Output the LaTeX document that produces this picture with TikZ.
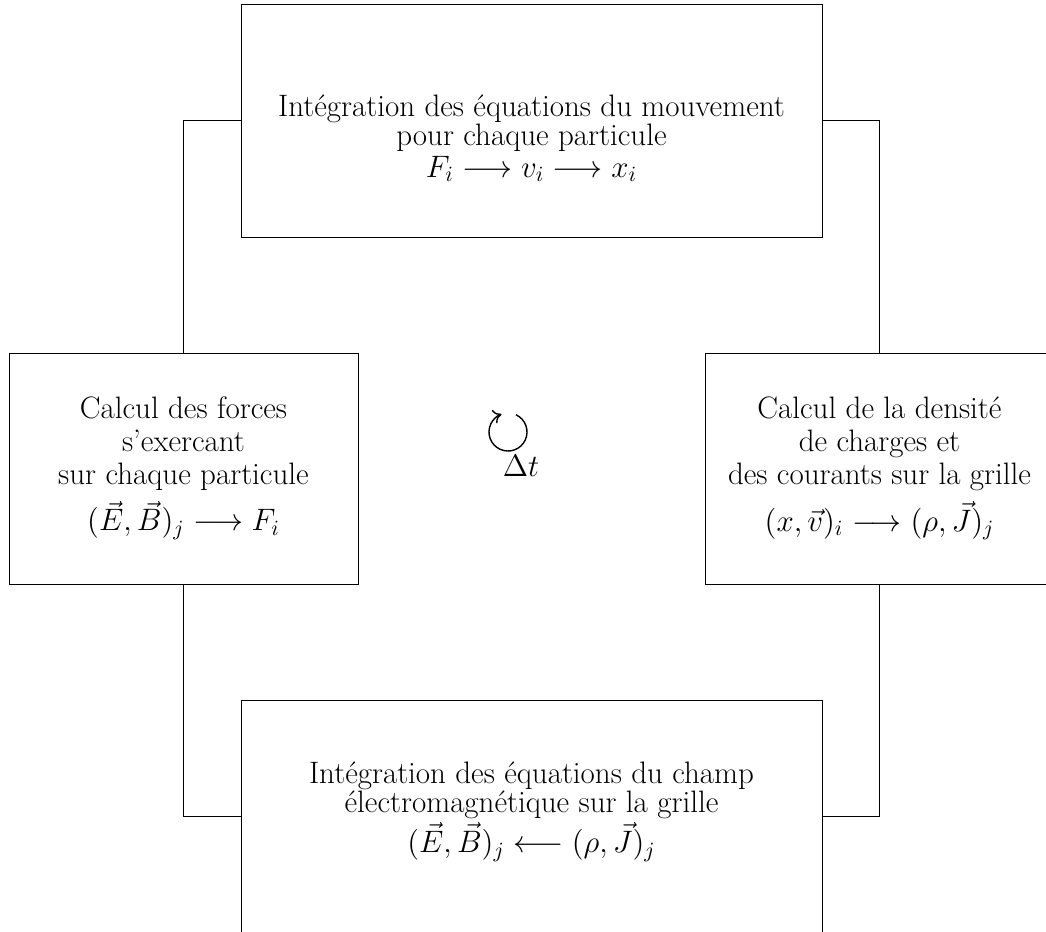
\documentclass[tikz,border=0pt]{standalone}
\usepackage{fix-cm}
\usepackage{amsmath,amssymb}
\usepackage{tikz}
\usetikzlibrary{arrows.meta, positioning, calc}

\begin{document}
\begin{tikzpicture}[
  x=0.5pt, y=-0.5pt,
  box/.style={rectangle, draw, minimum width=290.5pt, minimum height=116.5pt,
              align=center, font=\fontsize{15.5}{14.5}\selectfont, line width=0.5pt},
  sidebox/.style={box, minimum width=174.5pt, minimum height=115.5pt,
              font=\fontsize{15.5}{16.5}\selectfont},
  link/.style={line width=0.5pt}]

  \useasboundingbox (0,0) rectangle (1046,932);

  \node[box] (T) at (531.5,120.5) {\mbox{}\\[14pt]Intégration des équations du mouvement\\pour chaque particule\\[1.5pt]
    $F_i \longrightarrow v_i \longrightarrow x_i$};
  \node[sidebox] (L) at (183.5,468.5) {Calcul des forces\\s'exercant\\sur chaque particule\\[4pt]
    $(\vec{E},\vec{B})_j \longrightarrow F_i$};
  \node[sidebox] (R) at (879.5,468.5) {Calcul de la densité\\de charges et\\des courants sur la grille\\[4pt]
    $(x,\vec{v})_i \longrightarrow (\rho,\vec{J})_j$};
  \node[box] (B) at (531.5,816.5) {Intégration des équations du champ\\électromagnétique sur la grille\\[1pt]
    $(\vec{E},\vec{B})_j \longleftarrow (\rho,\vec{J})_j$\\[-5pt]\mbox{}};

  % cycle
  \coordinate (C) at (508,432);
  \draw[line width=0.7pt, -{To[length=4pt,width=7pt]}] ($(C)+(-65:19)$) arc (-65:250:19);
  \node[font=\fontsize{15.5}{16}\selectfont] (dt) at (521,466) {$\Delta t$};

  \draw[link] (T.west) -| (L.north);
  \draw[link] (T.east) -| (R.north);
  \draw[link] (L.south) |- (B.west);
  \draw[link] (R.south) |- (B.east);
\end{tikzpicture}
\end{document}
